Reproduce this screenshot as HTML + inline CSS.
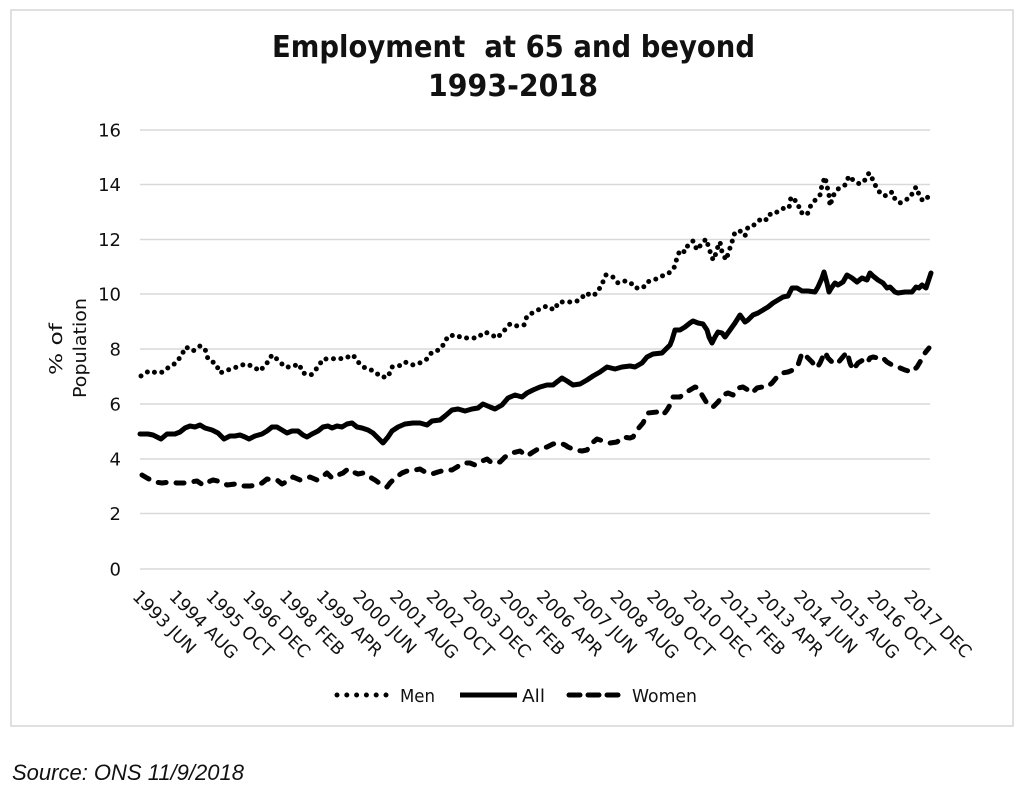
<!DOCTYPE html>
<html>
<head>
<meta charset="utf-8">
<style>
html,body{margin:0;padding:0;background:#fff;}
svg{display:block;}
text{font-family:"DejaVu Sans","Liberation Sans",sans-serif;fill:#111;}
</style>
</head>
<body>
<svg width="1024" height="797" viewBox="0 0 1024 797" xmlns="http://www.w3.org/2000/svg">
<rect x="0" y="0" width="1024" height="797" fill="#fff"/>
<rect x="11" y="10" width="1002" height="716" fill="none" stroke="#d6d6d6" stroke-width="1.5"/>

<!-- Title -->
<text x="272" y="57" font-size="30" font-weight="bold" textLength="483" lengthAdjust="spacingAndGlyphs" style="white-space:pre">Employment  at 65 and beyond</text>
<text x="428" y="96" font-size="30" font-weight="bold" textLength="170" lengthAdjust="spacingAndGlyphs">1993-2018</text>

<!-- Gridlines -->
<g stroke="#d9d9d9" stroke-width="1.5">
<line x1="140" y1="130" x2="930" y2="130"/>
<line x1="140" y1="184.5" x2="930" y2="184.5"/>
<line x1="140" y1="239.5" x2="930" y2="239.5"/>
<line x1="140" y1="294" x2="930" y2="294"/>
<line x1="140" y1="349" x2="930" y2="349"/>
<line x1="140" y1="404" x2="930" y2="404"/>
<line x1="140" y1="459" x2="930" y2="459"/>
<line x1="140" y1="513.5" x2="930" y2="513.5"/>
<line x1="140" y1="569" x2="930" y2="569"/>
</g>

<!-- Y tick labels -->
<g font-size="18" text-anchor="end">
<text x="121" y="136.5">16</text>
<text x="121" y="191">14</text>
<text x="121" y="246">12</text>
<text x="121" y="300.5">10</text>
<text x="121" y="355.5">8</text>
<text x="121" y="410.5">6</text>
<text x="121" y="465.5">4</text>
<text x="121" y="520">2</text>
<text x="121" y="575.5">0</text>
</g>

<!-- Y axis title -->
<text transform="translate(62,349) rotate(-90)" font-size="18" text-anchor="middle" textLength="52" lengthAdjust="spacingAndGlyphs">% of</text>
<text transform="translate(86,348) rotate(-90)" font-size="18" text-anchor="middle" textLength="100" lengthAdjust="spacingAndGlyphs">Population</text>

<!-- X labels -->
<g font-size="17.5">
<text transform="translate(131.5,597.5) rotate(45)">1993 JUN</text>
<text transform="translate(168.2,597.5) rotate(45)">1994 AUG</text>
<text transform="translate(205,597.5) rotate(45)">1995 OCT</text>
<text transform="translate(241.7,597.5) rotate(45)">1996 DEC</text>
<text transform="translate(278.5,597.5) rotate(45)">1998 FEB</text>
<text transform="translate(315.2,597.5) rotate(45)">1999 APR</text>
<text transform="translate(351.9,597.5) rotate(45)">2000 JUN</text>
<text transform="translate(388.7,597.5) rotate(45)">2001 AUG</text>
<text transform="translate(425.4,597.5) rotate(45)">2002 OCT</text>
<text transform="translate(462.2,597.5) rotate(45)">2003 DEC</text>
<text transform="translate(498.9,597.5) rotate(45)">2005 FEB</text>
<text transform="translate(535.6,597.5) rotate(45)">2006 APR</text>
<text transform="translate(572.4,597.5) rotate(45)">2007 JUN</text>
<text transform="translate(609.1,597.5) rotate(45)">2008 AUG</text>
<text transform="translate(645.9,597.5) rotate(45)">2009 OCT</text>
<text transform="translate(682.6,597.5) rotate(45)">2010 DEC</text>
<text transform="translate(719.3,597.5) rotate(45)">2012 FEB</text>
<text transform="translate(756.1,597.5) rotate(45)">2013 APR</text>
<text transform="translate(792.8,597.5) rotate(45)">2014 JUN</text>
<text transform="translate(829.6,597.5) rotate(45)">2015 AUG</text>
<text transform="translate(866.3,597.5) rotate(45)">2016 OCT</text>
<text transform="translate(903,597.5) rotate(45)">2017 DEC</text>
</g>

<!-- Series: Men (dotted) -->
<polyline fill="none" stroke="#000" stroke-width="5" stroke-linecap="round" stroke-linejoin="round" stroke-dasharray="0 7.5"
points="141,376 149,371 158,373 163,372 169,367 176,363 181,356 186,347 193,351 200,346 205,349 208,359 216,364 220,373 228,370 237,367 245,364 252,366 260,371 267,363 272,355 278,360 285,367 291,367 299,364 303,373 311,375 318,367 323,359 332,359 337,358 343,359 353,355 358,362 365,368 374,371 381,377 388,377 392,367 399,366 405,362 412,365 418,364 427,359 432,352 439,350 444,344 448,336 456,335 462,338 469,338 477,338 485,332 492,335 497,338 503,332 510,324 516,326 524,325 527,316 534,312 542,308 547,306 554,310 559,302 567,302 574,302 580,300 586,293 592,296 597,293 602,284 606,275 612,276 618,283 624,281 630,282 635,288 643,288 647,282 654,280 662,276 668,274 674,268 677,258 680,250 685,252 688,245 693,241 697,250 700,246 706,239 709,248 712,258 714,260 717,249 720,242 722,252 726,260 729,251 732,242 735,232 740,231 745,236 748,227 754,225 762,218 767,220 771,213 778,212 784,208 789,208 791,197 798,203 800,212 807,215 811,205 817,198 820,195 822,185 825,177 827,186 829,195 830,206 833,196 838,189 845,185 849,176 855,182 860,184 865,180 869,173 873,180 877,189 882,195 887,196 892,192 895,199 900,203 905,200 910,198 913,192 916,187 920,197 923,201 928,197"/>

<!-- Series: All (solid) -->
<polyline fill="none" stroke="#000" stroke-width="5" stroke-linecap="round" stroke-linejoin="round"
points="140,434 148,434 153,435 157,437 161,439 167,434 175,434 180,432 185,428 190,426 195,427 200,425 205,428 212,430 218,433 224,439 230,436 235,436 240,435 245,437 249,439 255,436 262,434 267,431 272,427 277,427 282,430 287,433 292,431 298,431 303,435 307,437 312,434 318,431 323,427 328,426 332,428 337,426 342,427 347,424 352,423 357,427 362,428 368,430 373,433 378,438 383,443 388,437 392,431 398,427 405,424 413,423 420,423 427,425 432,421 440,420 445,416 452,410 458,409 465,411 472,409 478,408 483,404 490,407 495,409 502,405 508,398 515,395 522,397 527,393 533,390 540,387 547,385 553,385 562,378 567,381 573,385 580,384 587,380 593,376 600,372 607,367 615,369 622,367 630,366 635,367 642,363 647,357 653,354 662,353 667,348 670,345 672,340 675,330 680,330 685,327 690,323 693,321 698,323 703,324 707,330 709,337 712,343 715,337 718,332 722,333 725,337 730,330 735,323 740,315 745,322 748,320 753,315 758,313 763,310 768,307 773,303 778,300 783,297 788,296 792,288 797,288 802,291 808,291 815,292 818,287 822,278 824,272 827,283 829,292 832,287 835,283 838,285 843,282 847,275 852,278 857,282 862,278 867,280 870,273 873,276 878,280 883,283 887,288 890,287 895,292 898,293 905,292 912,292 916,287 919,288 922,285 926,288 928,282 931,273"/>

<!-- Series: Women (dashed) -->
<polyline fill="none" stroke="#000" stroke-width="5" stroke-linecap="round" stroke-linejoin="round" stroke-dasharray="8 10"
points="142,475 147,478 155,482 162,483 170,482 177,483 185,483 190,482 197,481 203,485 208,482 213,480 222,482 227,485 235,484 242,486 250,486 257,485 262,483 267,479 272,480 277,480 282,484 288,481 293,477 300,480 305,479 310,477 317,480 322,477 327,473 332,478 338,475 343,473 348,469 353,472 358,474 363,473 368,476 375,480 382,485 387,487 390,483 395,478 402,473 407,471 415,470 420,469 425,472 432,474 438,472 445,470 452,470 457,467 463,463 470,463 475,465 480,462 487,459 492,463 500,462 505,457 512,453 520,451 527,456 533,452 538,449 547,447 553,444 560,443 565,445 568,447 575,450 582,451 587,450 592,443 597,439 603,441 610,443 617,442 623,437 630,438 633,437 637,430 643,423 648,413 657,412 663,415 667,410 670,405 673,397 680,397 685,393 690,390 695,387 698,388 702,395 705,400 708,405 713,407 718,402 723,395 728,393 733,395 738,388 743,387 748,390 752,393 757,388 762,387 767,387 772,383 777,377 782,373 788,372 793,370 798,365 802,353 807,357 812,362 817,368 820,363 825,352 828,358 832,362 837,364 842,358 847,352 850,363 853,370 858,363 863,360 867,363 870,358 873,357 878,358 882,357 887,362 892,365 898,367 905,370 912,372 917,367 920,362 922,358 925,353 929,348"/>

<!-- Legend -->
<line x1="337" y1="695" x2="387" y2="695" stroke="#000" stroke-width="5" stroke-linecap="round" stroke-dasharray="0 9.8"/>
<text x="400" y="702" font-size="18" textLength="35" lengthAdjust="spacingAndGlyphs">Men</text>
<line x1="460" y1="695" x2="517" y2="695" stroke="#000" stroke-width="5"/>
<text x="522" y="702" font-size="18" textLength="23" lengthAdjust="spacingAndGlyphs">All</text>
<g stroke="#000" stroke-width="5" stroke-linecap="round">
<line x1="569" y1="695" x2="580" y2="695"/>
<line x1="588" y1="695" x2="599" y2="695"/>
<line x1="607" y1="695" x2="618" y2="695"/>
</g>
<text x="632" y="702" font-size="18" textLength="65" lengthAdjust="spacingAndGlyphs">Women</text>

<!-- Source -->
<text x="12" y="780" font-size="22" font-style="italic" style="font-family:'Liberation Sans',sans-serif" fill="#222">Source: ONS 11/9/2018</text>
</svg>
</body>
</html>
